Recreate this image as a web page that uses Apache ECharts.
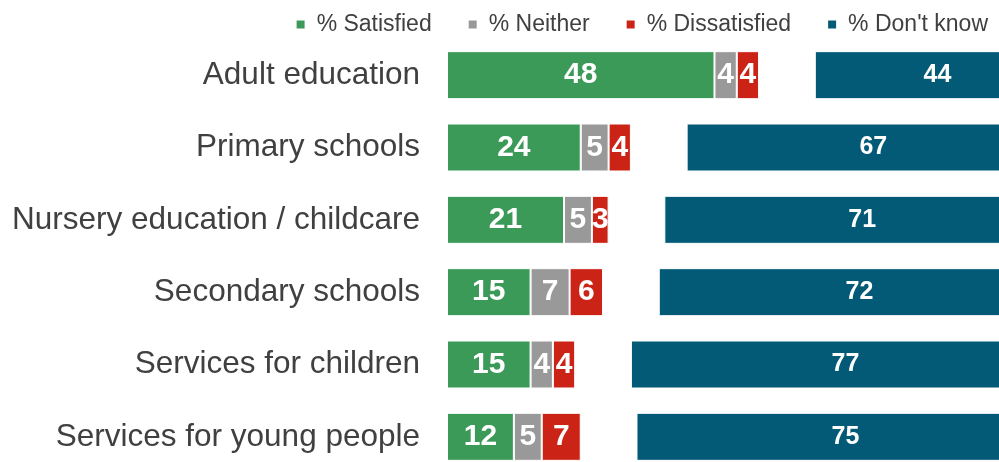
<!DOCTYPE html>
<html>
<head>
<meta charset="utf-8">
<script src="https://cdn.jsdelivr.net/npm/echarts@6/dist/echarts.min.js"></script>
<style>
  html, body { margin: 0; padding: 0; background: #ffffff; }
  #chart { width: 999px; height: 462px; }
</style>
</head>
<body>
<div id="chart"></div>
<script>
// Satisfaction with education services (%)
const categories = [
  'Adult education',
  'Primary schools',
  'Nursery education / childcare',
  'Secondary schools',
  'Services for children',
  'Services for young people'
];
const satisfied    = [48, 24, 21, 15, 15, 12];
const neither      = [4, 5, 5, 7, 4, 5];
const dissatisfied = [4, 4, 3, 6, 4, 7];
const dontKnow     = [44, 67, 71, 72, 77, 75];

// Blank space (in % units) between the opinion block and the "Don't know" bar
const GAP = 10;

const FONT = "'Liberation Sans', Arial, sans-serif";
const colors = {
  sat: '#3c9a59',
  nei: '#999999',
  dis: '#cc2317',
  dk:  '#035a77'
};

function segment(name, data, color, fontSize) {
  return {
    name: name,
    type: 'bar',
    stack: 'all',
    data: data,
    barWidth: 48,
    itemStyle: { color: color, borderColor: '#ffffff', borderWidth: 1 },
    label: {
      show: true,
      position: 'inside',
      color: '#ffffff',
      fontFamily: FONT,
      fontWeight: 'bold',
      fontSize: fontSize
    },
    emphasis: { disabled: true }
  };
}

const chart = echarts.init(document.getElementById('chart'), null, { renderer: 'canvas' });

chart.setOption({
  animation: false,
  backgroundColor: '#ffffff',
  legend: {
    data: ['% Satisfied', '% Neither', '% Dissatisfied', "% Don't know"],
    right: 6,
    top: 8,
    icon: 'rect',
    itemWidth: 10,
    itemHeight: 10,
    itemGap: 35,
    textStyle: {
      fontFamily: FONT,
      fontSize: 23,
      color: '#404040',
      padding: [0, 0, 0, 6]
    }
  },
  // The plot area runs past the right and bottom edges, so the
  // "Don't know" bars are cut off at the right of the canvas
  grid: {
    left: 447,
    top: 39,
    width: 613,
    height: 434,
    containLabel: false,
    outerBoundsMode: 'none'
  },
  xAxis: {
    type: 'value',
    min: 0,
    max: 110,
    show: false
  },
  yAxis: {
    type: 'category',
    data: categories,
    inverse: true,
    axisLine: { show: false },
    axisTick: { show: false },
    splitLine: { show: false },
    axisLabel: {
      margin: 27,
      padding: [5, 0, 0, 0],
      fontFamily: FONT,
      fontSize: 31.5,
      color: '#404040'
    }
  },
  series: [
    segment('% Satisfied', satisfied, colors.sat, 30),
    segment('% Neither', neither, colors.nei, 30),
    segment('% Dissatisfied', dissatisfied, colors.dis, 30),
    {
      name: 'gap',
      type: 'bar',
      stack: 'all',
      data: categories.map(() => GAP),
      barWidth: 48,
      itemStyle: { color: 'rgba(0,0,0,0)' },
      label: { show: false },
      emphasis: { disabled: true },
      silent: true
    },
    segment("% Don't know", dontKnow, colors.dk, 25)
  ]
});
</script>
</body>
</html>
